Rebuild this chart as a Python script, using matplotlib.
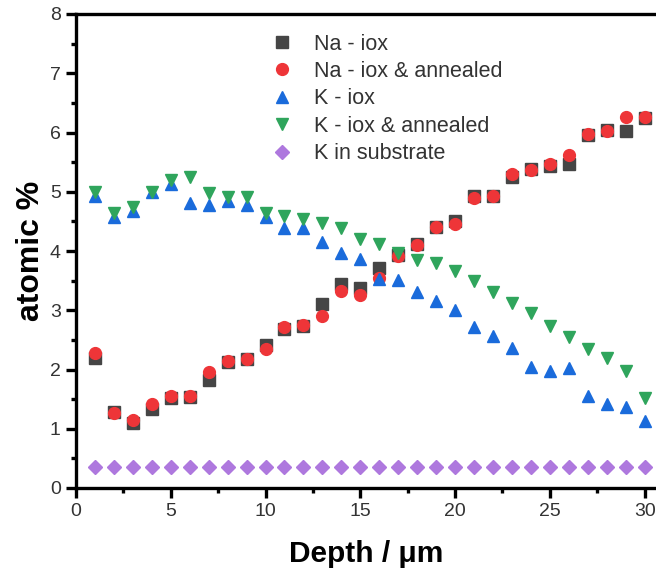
import matplotlib
matplotlib.use("Agg")
import matplotlib.pyplot as plt
from matplotlib.ticker import MultipleLocator

depth = list(range(1, 31))
na_iox = [2.20, 1.28, 1.09, 1.33, 1.52, 1.54, 1.82, 2.12, 2.17, 2.41,
          2.68, 2.74, 3.10, 3.44, 3.37, 3.71, 3.93, 4.12, 4.40, 4.51,
          4.93, 4.93, 5.25, 5.39, 5.44, 5.47, 5.96, 6.05, 6.02, 6.25]
na_ann = [2.28, 1.27, 1.14, 1.41, 1.56, 1.56, 1.96, 2.14, 2.18, 2.35,
          2.71, 2.75, 2.90, 3.33, 3.25, 3.54, 3.92, 4.10, 4.41, 4.46,
          4.90, 4.93, 5.30, 5.36, 5.46, 5.62, 5.98, 6.03, 6.26, 6.26]
k_iox = [4.93, 4.57, 4.67, 4.99, 5.13, 4.81, 4.78, 4.84, 4.78, 4.57,
         4.39, 4.39, 4.15, 3.96, 3.86, 3.53, 3.51, 3.31, 3.16, 3.01,
         2.72, 2.57, 2.36, 2.04, 1.97, 2.03, 1.55, 1.42, 1.37, 1.13]
k_ann = [5.00, 4.64, 4.75, 4.99, 5.20, 5.25, 4.98, 4.91, 4.91, 4.64,
         4.59, 4.54, 4.47, 4.38, 4.21, 4.12, 3.97, 3.84, 3.80, 3.67,
         3.50, 3.30, 3.12, 2.96, 2.74, 2.55, 2.34, 2.20, 1.97, 1.52]
k_sub = [0.35] * 30

labels = ["Na - iox", "Na - iox & annealed", "K - iox",
          "K - iox & annealed", "K in substrate"]

plt.rcParams['font.family'] = ['Liberation Sans', 'DejaVu Sans']

fig = plt.figure(figsize=(6.56, 5.76), dpi=100)
ax = fig.add_axes([76/656, 1 - 488/576, 1 - 76/656, (488 - 14)/576])

ms = 8.5
ax.plot(depth, na_iox, 's', color='#454545', ms=ms, label=labels[0], ls='none')
ax.plot(depth, na_ann, 'o', color='#EE3538', ms=ms, label=labels[1], ls='none')
ax.plot(depth, k_iox, '^', color='#1A6BDB', ms=ms + 0.5, label=labels[2], ls='none')
ax.plot(depth, k_ann, 'v', color='#2FA55C', ms=ms + 0.5, label=labels[3], ls='none')
ax.plot(depth, k_sub, 'D', color='#AE78DE', ms=ms - 1.5, label=labels[4], ls='none')

ax.set_xlim(0, 30.6)
ax.set_ylim(0, 8)
ax.xaxis.set_major_locator(MultipleLocator(5))
ax.xaxis.set_minor_locator(MultipleLocator(2.5))
ax.yaxis.set_major_locator(MultipleLocator(1))
ax.yaxis.set_minor_locator(MultipleLocator(0.5))

for s in ['left', 'bottom', 'top']:
    ax.spines[s].set_linewidth(2.4)
ax.spines['right'].set_visible(False)
ax.tick_params(which='major', direction='out', length=7, width=2.4,
               labelsize=14, colors='black', labelcolor='#333333', pad=4)
ax.tick_params(which='minor', direction='out', length=3.5, width=2.4)
ax.tick_params(top=False, right=False)

ax.set_xlabel("Depth / μm", fontsize=21.5, fontweight='bold', labelpad=14)
ax.set_ylabel("atomic %", fontsize=23, fontweight='bold', labelpad=3)

leg = ax.legend(loc='upper left', bbox_to_anchor=(0.318, 0.977), frameon=False,
                fontsize=15.5, handletextpad=0.9, labelspacing=0.3,
                handlelength=1.2, borderaxespad=0)
for t in leg.get_texts():
    t.set_color('#333333')

fig.savefig("out.png", dpi=100)
